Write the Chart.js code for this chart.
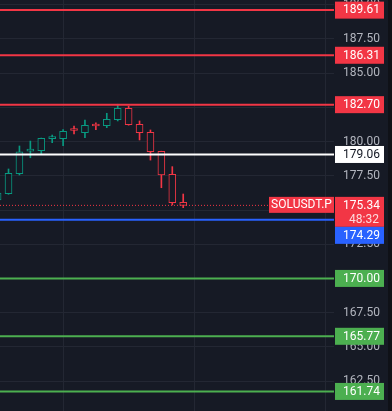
<!DOCTYPE html>
<html>
<head>
<meta charset="utf-8">
<script src="https://cdn.jsdelivr.net/npm/chart.js@4.4.1/dist/chart.umd.min.js"></script>
<style>
  html, body { margin: 0; padding: 0; background: #161a25; }
  #wrap { position: relative; width: 392px; height: 411px; }
</style>
</head>
<body>
<div id="wrap"><canvas id="c" width="392" height="411"></canvas></div>
<script>
// ---- data ----
const candleIndex = [0,1,2,3,4,5,6,7,8,9,10,11,12,13,14,15,16,17];
const opens  = [175.73,176.19,177.65,179.31,179.33,180.22,180.21,180.85,180.65,181.18,181.16,181.60,182.43,181.26,180.68,179.29,177.61,175.56];
const highs  = [176.30,178.00,179.68,180.04,180.26,180.48,180.87,181.14,181.58,181.38,182.07,182.73,182.60,181.51,180.85,179.30,178.17,176.17];
const lows   = [175.60,176.15,177.56,178.82,179.12,179.92,179.70,180.56,180.29,180.87,181.02,181.51,181.20,180.12,178.65,176.63,175.37,175.17];
const closes = [176.24,177.68,179.26,179.35,180.24,180.26,180.75,180.81,181.19,181.14,181.63,182.43,181.24,180.65,179.26,177.56,175.53,175.34];

const levelValues = [189.61, 186.31, 182.70, 179.06, 174.29, 170.00, 165.77, 161.74];
const levelColors = ['#f23645','#f23645','#f23645','#ffffff','#2962ff','#4caf50','#4caf50','#4caf50'];
const levelTextColors = ['#ffffff','#ffffff','#ffffff','#131722','#ffffff','#ffffff','#ffffff','#ffffff'];

const currentPrice = 175.34;
const symbolLabel = 'SOLUSDT.P';
const countdownLabel = '48:32';

const yTicks = [162.5,165,167.5,170,172.5,175,177.5,180,182.5,185,187.5,190];
const xGridTicks = [6,18,30];
const xMin = 0.22, xMax = 30.81;
const yMin = 160.31, yMax = 190.35;

const UP = '#089981', DOWN = '#f23645', BG = '#161a25', GRID = '#232733';
const FONT = 'Roboto, "DejaVu Sans", sans-serif';

// ---- datasets ----
const isUp = candleIndex.map(i => closes[i] >= opens[i]);
const candleColors = isUp.map(u => u ? UP : DOWN);

const datasets = [];
levelValues.forEach((v, k) => {
  datasets.push({
    type: 'line',
    data: [{x: xMin, y: v}, {x: xMax, y: v}],
    borderColor: levelColors[k],
    borderWidth: 2,
    pointRadius: 0,
    order: 0
  });
});
datasets.push({
  type: 'line',
  data: [{x: xMin, y: currentPrice}, {x: xMax, y: currentPrice}],
  borderColor: DOWN,
  borderWidth: 1,
  borderDash: [1, 2],
  pointRadius: 0,
  order: 0
});
datasets.push({
  type: 'bar',
  data: candleIndex.map(i => ({x: i, y: [opens[i], closes[i]]})),
  backgroundColor: BG,
  borderColor: candleColors,
  borderWidth: 1,
  borderSkipped: false,
  barThickness: 7,
  minBarLength: 2,
  grouped: false,
  order: 1
});
datasets.push({
  type: 'bar',
  data: candleIndex.map(i => ({x: i, y: [lows[i], highs[i]]})),
  backgroundColor: candleColors,
  borderWidth: 0,
  barThickness: 1,
  grouped: false,
  order: 2
});

// ---- price-scale label boxes ----
const labelPlugin = {
  id: 'labels',
  beforeDraw(chart) {
    const ctx = chart.ctx;
    ctx.save();
    ctx.fillStyle = BG;
    ctx.fillRect(0, 0, chart.width, chart.height);
    ctx.fillStyle = '#0f1117';
    ctx.fillRect(388, 0, chart.width - 388, chart.height);
    ctx.restore();
  },
  afterDraw(chart) {
    const ctx = chart.ctx;
    const ys = chart.scales.y;
    const right = chart.chartArea.right;
    const bx = right + 1, bw = 49, h = 17;
    const boxes = levelValues.map((v, k) => ({v, color: levelColors[k], text: v.toFixed(2), tc: levelTextColors[k], h}));
    boxes.push({v: currentPrice, color: DOWN, text: currentPrice.toFixed(2), tc: '#ffffff', h: 30, sub: countdownLabel, sym: true});
    boxes.sort((a, b) => b.v - a.v);
    let prevBottom = -1e9;
    ctx.save();
    ctx.font = '12px ' + FONT;
    ctx.textBaseline = 'middle';
    boxes.forEach(b => {
      const py = ys.getPixelForValue(b.v);
      let top = Math.max(py - 8.5, prevBottom);
      prevBottom = top + b.h;
      ctx.fillStyle = b.color;
      ctx.fillRect(bx, top, bw, b.h);
      ctx.fillStyle = b.tc;
      ctx.textAlign = 'left';
      ctx.fillText(b.text, 343, top + 8.8);
      if (b.sub) {
        ctx.fillStyle = 'rgba(255,255,255,0.82)';
        ctx.fillText(b.sub, 349, top + 23.3);
      }
      if (b.sym) {
        ctx.fillStyle = b.color;
        ctx.fillRect(right - 65, top, 65, 16);
        ctx.fillStyle = '#ffffff';
        ctx.textAlign = 'center';
        ctx.fillText(symbolLabel, right - 32.5, top + 8.5);
      }
    });
    ctx.restore();
  }
};

new Chart(document.getElementById('c'), {
  type: 'bar',
  data: { datasets },
  plugins: [labelPlugin],
  options: {
    responsive: false,
    animation: false,
    events: [],
    layout: { padding: 0 },
    plugins: { legend: { display: false }, tooltip: { enabled: false } },
    scales: {
      x: {
        type: 'linear',
        min: xMin, max: xMax,
        offset: false,
        grid: { color: GRID, drawTicks: false, offset: false },
        border: { display: false },
        ticks: { display: false },
        afterBuildTicks(s) { s.ticks = xGridTicks.map(v => ({value: v})); },
        afterFit(s) { s.height = 0; s.paddingLeft = 0; s.paddingRight = 0; s.paddingTop = 0; s.paddingBottom = 0; }
      },
      y: {
        type: 'linear',
        position: 'right',
        min: yMin, max: yMax,
        grid: { color: GRID, drawTicks: false },
        border: { display: false },
        ticks: {
          color: '#b2b5be',
          padding: 9,
          font: { family: FONT, size: 12 },
          callback: v => Number(v).toFixed(2)
        },
        afterBuildTicks(s) { s.ticks = yTicks.map(v => ({value: v})); },
        afterFit(s) { s.width = 58; s.paddingTop = 0; s.paddingBottom = 0; s.paddingLeft = 0; s.paddingRight = 0; }
      }
    }
  }
});
</script>
</body>
</html>
